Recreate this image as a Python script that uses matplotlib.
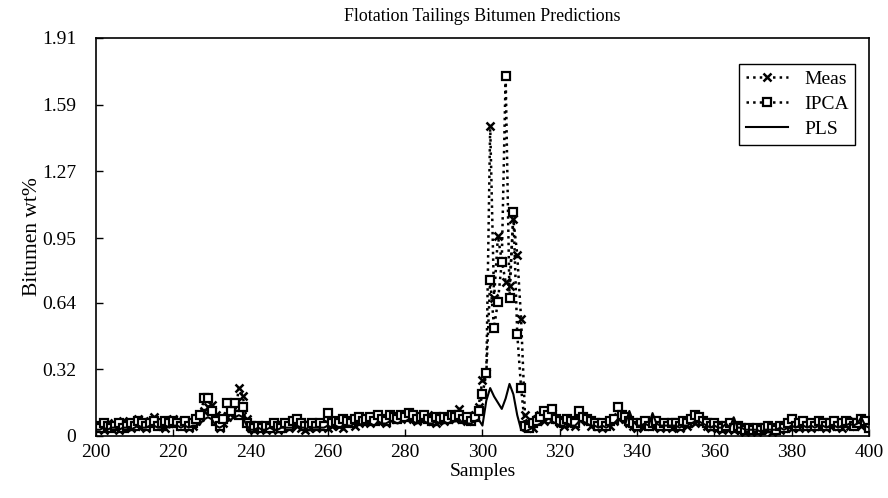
import matplotlib
matplotlib.use("Agg")
import matplotlib.pyplot as plt

samples = list(range(200, 401))

meas = [
    0.04, 0.05, 0.03, 0.06, 0.04, 0.05, 0.03, 0.07, 0.05, 0.04,
    0.06, 0.08, 0.05, 0.04, 0.07, 0.09, 0.06, 0.05, 0.04, 0.06,
    0.08, 0.07, 0.05, 0.06, 0.04, 0.05, 0.07, 0.09, 0.12, 0.14,
    0.15, 0.10, 0.04, 0.06, 0.09, 0.13, 0.11, 0.23, 0.19, 0.08,
    0.04, 0.03, 0.05, 0.04, 0.03, 0.05, 0.04, 0.03, 0.04, 0.05,
    0.04, 0.06, 0.05, 0.04, 0.03, 0.04, 0.05, 0.04, 0.06, 0.05,
    0.04, 0.05, 0.06, 0.05, 0.04, 0.06, 0.07, 0.05, 0.06, 0.08,
    0.07, 0.06, 0.08, 0.09, 0.07, 0.06, 0.08, 0.10, 0.09, 0.08,
    0.09, 0.10, 0.08, 0.07, 0.09, 0.08, 0.10, 0.07, 0.06, 0.08,
    0.07, 0.09, 0.10, 0.08, 0.13, 0.09, 0.07, 0.08, 0.10, 0.14,
    0.27, 0.30, 1.49, 0.66, 0.96, 0.84, 0.74, 0.72, 1.04, 0.87,
    0.56, 0.10, 0.06, 0.04, 0.08, 0.10, 0.07, 0.09, 0.11, 0.08,
    0.06, 0.05, 0.07, 0.06, 0.05, 0.08, 0.09, 0.07, 0.05, 0.06,
    0.05, 0.04, 0.06, 0.05, 0.07, 0.09, 0.10, 0.08, 0.06, 0.05,
    0.04, 0.06, 0.05, 0.07, 0.06, 0.05, 0.04, 0.06, 0.05, 0.04,
    0.05, 0.04, 0.06, 0.05, 0.07, 0.06, 0.08, 0.07, 0.05, 0.04,
    0.05, 0.04, 0.03, 0.05, 0.04, 0.03, 0.04, 0.03, 0.02, 0.03,
    0.03, 0.02, 0.03, 0.04, 0.03, 0.02, 0.04, 0.03, 0.04, 0.05,
    0.04, 0.05, 0.04, 0.06, 0.05, 0.04, 0.05, 0.06, 0.05, 0.04,
    0.05, 0.06, 0.05, 0.04, 0.06, 0.05, 0.07, 0.06, 0.05, 0.06,
    0.05,
]

ipca = [
    0.05, 0.04, 0.06, 0.05, 0.04, 0.05, 0.06, 0.04, 0.05, 0.06,
    0.05, 0.07, 0.06, 0.05, 0.06, 0.07, 0.05, 0.06, 0.07, 0.06,
    0.07, 0.06, 0.05, 0.07, 0.05, 0.06, 0.08, 0.10, 0.18, 0.18,
    0.12, 0.07, 0.05, 0.08, 0.16, 0.12, 0.16, 0.10, 0.14, 0.06,
    0.05, 0.04, 0.05, 0.04, 0.05, 0.04, 0.06, 0.05, 0.04, 0.06,
    0.05, 0.07, 0.08, 0.06, 0.05, 0.05, 0.06, 0.05, 0.06, 0.05,
    0.11, 0.06, 0.07, 0.06, 0.08, 0.07, 0.06, 0.08, 0.09, 0.07,
    0.08, 0.09, 0.07, 0.10, 0.08, 0.07, 0.10, 0.09, 0.08, 0.10,
    0.09, 0.11, 0.10, 0.08, 0.09, 0.10, 0.08, 0.07, 0.09, 0.08,
    0.09, 0.08, 0.10, 0.09, 0.10, 0.08, 0.09, 0.07, 0.09, 0.12,
    0.20, 0.30, 0.75, 0.52, 0.645, 0.836, 1.73, 0.66, 1.076, 0.49,
    0.23, 0.05, 0.04, 0.06, 0.07, 0.09, 0.12, 0.10, 0.13, 0.08,
    0.07, 0.06, 0.08, 0.07, 0.06, 0.12, 0.09, 0.08, 0.07, 0.06,
    0.05, 0.06, 0.05, 0.07, 0.08, 0.14, 0.10, 0.09, 0.07, 0.06,
    0.05, 0.06, 0.07, 0.05, 0.06, 0.07, 0.05, 0.06, 0.05, 0.06,
    0.06, 0.05, 0.07, 0.06, 0.08, 0.10, 0.09, 0.07, 0.06, 0.05,
    0.06, 0.05, 0.04, 0.05, 0.06, 0.04, 0.05, 0.04, 0.03, 0.04,
    0.03, 0.04, 0.03, 0.04, 0.05, 0.04, 0.03, 0.05, 0.04, 0.06,
    0.08, 0.05, 0.06, 0.07, 0.05, 0.06, 0.05, 0.07, 0.06, 0.05,
    0.06, 0.07, 0.05, 0.06, 0.07, 0.06, 0.05, 0.06, 0.08, 0.07,
    0.04,
]

pls = [
    0.03, 0.03, 0.04, 0.03, 0.04, 0.04, 0.03, 0.04, 0.04, 0.03,
    0.04, 0.05, 0.04, 0.04, 0.05, 0.05, 0.04, 0.04, 0.05, 0.04,
    0.05, 0.05, 0.04, 0.05, 0.04, 0.05, 0.05, 0.06, 0.08, 0.09,
    0.08, 0.05, 0.04, 0.05, 0.07, 0.08, 0.09, 0.10, 0.09, 0.05,
    0.03, 0.03, 0.04, 0.03, 0.03, 0.04, 0.03, 0.03, 0.04, 0.04,
    0.04, 0.04, 0.05, 0.04, 0.04, 0.03, 0.04, 0.04, 0.04, 0.04,
    0.05, 0.04, 0.05, 0.04, 0.05, 0.05, 0.05, 0.06, 0.06, 0.05,
    0.06, 0.06, 0.05, 0.07, 0.06, 0.06, 0.07, 0.07, 0.06, 0.07,
    0.07, 0.08, 0.07, 0.06, 0.07, 0.07, 0.06, 0.06, 0.07, 0.06,
    0.07, 0.06, 0.07, 0.07, 0.08, 0.06, 0.06, 0.06, 0.07, 0.08,
    0.05, 0.17, 0.23, 0.19, 0.16, 0.13, 0.18, 0.25, 0.20, 0.10,
    0.03, 0.02, 0.03, 0.04, 0.05, 0.06, 0.07, 0.06, 0.07, 0.06,
    0.05, 0.05, 0.06, 0.05, 0.05, 0.07, 0.07, 0.06, 0.05, 0.05,
    0.04, 0.05, 0.04, 0.05, 0.06, 0.08, 0.07, 0.06, 0.12, 0.07,
    0.05, 0.05, 0.06, 0.05, 0.11, 0.06, 0.05, 0.05, 0.05, 0.05,
    0.05, 0.04, 0.05, 0.05, 0.06, 0.07, 0.07, 0.06, 0.05, 0.04,
    0.05, 0.04, 0.04, 0.06, 0.04, 0.09, 0.04, 0.04, 0.03, 0.03,
    0.03, 0.03, 0.02, 0.03, 0.03, 0.03, 0.03, 0.04, 0.03, 0.04,
    0.05, 0.04, 0.05, 0.05, 0.04, 0.05, 0.04, 0.05, 0.05, 0.04,
    0.05, 0.05, 0.04, 0.05, 0.05, 0.06, 0.05, 0.06, 0.09, 0.05,
    0.04,
]

x_ticks = list(range(200, 401, 20))
y_ticks = [0, 0.32, 0.64, 0.95, 1.27, 1.59, 1.91]
y_tick_labels = ["0", "0.32", "0.64", "0.95", "1.27", "1.59", "1.91"]

plt.rcParams["font.family"] = ["Liberation Serif", "DejaVu Serif"]

fig = plt.figure(figsize=(8.88, 4.98), dpi=100)
ax = fig.add_axes([0.108, 0.1245, 0.8706, 0.7992])

ax.plot(samples, meas, color="black", linestyle=":", linewidth=1.8,
        marker="x", markersize=5.5, markeredgewidth=1.8, label="Meas")
ax.plot(samples, ipca, color="black", linestyle=":", linewidth=1.8,
        marker="s", markersize=5.5, markerfacecolor="white",
        markeredgecolor="black", markeredgewidth=1.6, label="IPCA")
ax.plot(samples, pls, color="black", linestyle="-", linewidth=1.5,
        label="PLS")

ax.set_xlim(200, 400)
ax.set_ylim(0, 1.91)
ax.set_xticks(x_ticks)
ax.set_yticks(y_ticks)
ax.set_yticklabels(y_tick_labels)
ax.tick_params(direction="in", length=5, width=1, labelsize=14,
               top=False, right=False)
ax.tick_params(axis="y", pad=14)
ax.tick_params(axis="x", pad=6)
for spine in ax.spines.values():
    spine.set_linewidth(1.2)

ax.set_title("Flotation Tailings Bitumen Predictions", fontsize=12.9, pad=12)
ax.set_xlabel("Samples", fontsize=14, labelpad=1)
ax.set_ylabel("Bitumen wt%", fontsize=15.5, labelpad=0.5)

leg = ax.legend(loc="upper right", bbox_to_anchor=(0.995, 0.96),
                fontsize=14, frameon=True, fancybox=False, framealpha=1,
                edgecolor="black", handlelength=2.2, borderpad=0.35,
                labelspacing=0.38)
leg.get_frame().set_linewidth(1.0)

fig.savefig("out.png", dpi=100)
